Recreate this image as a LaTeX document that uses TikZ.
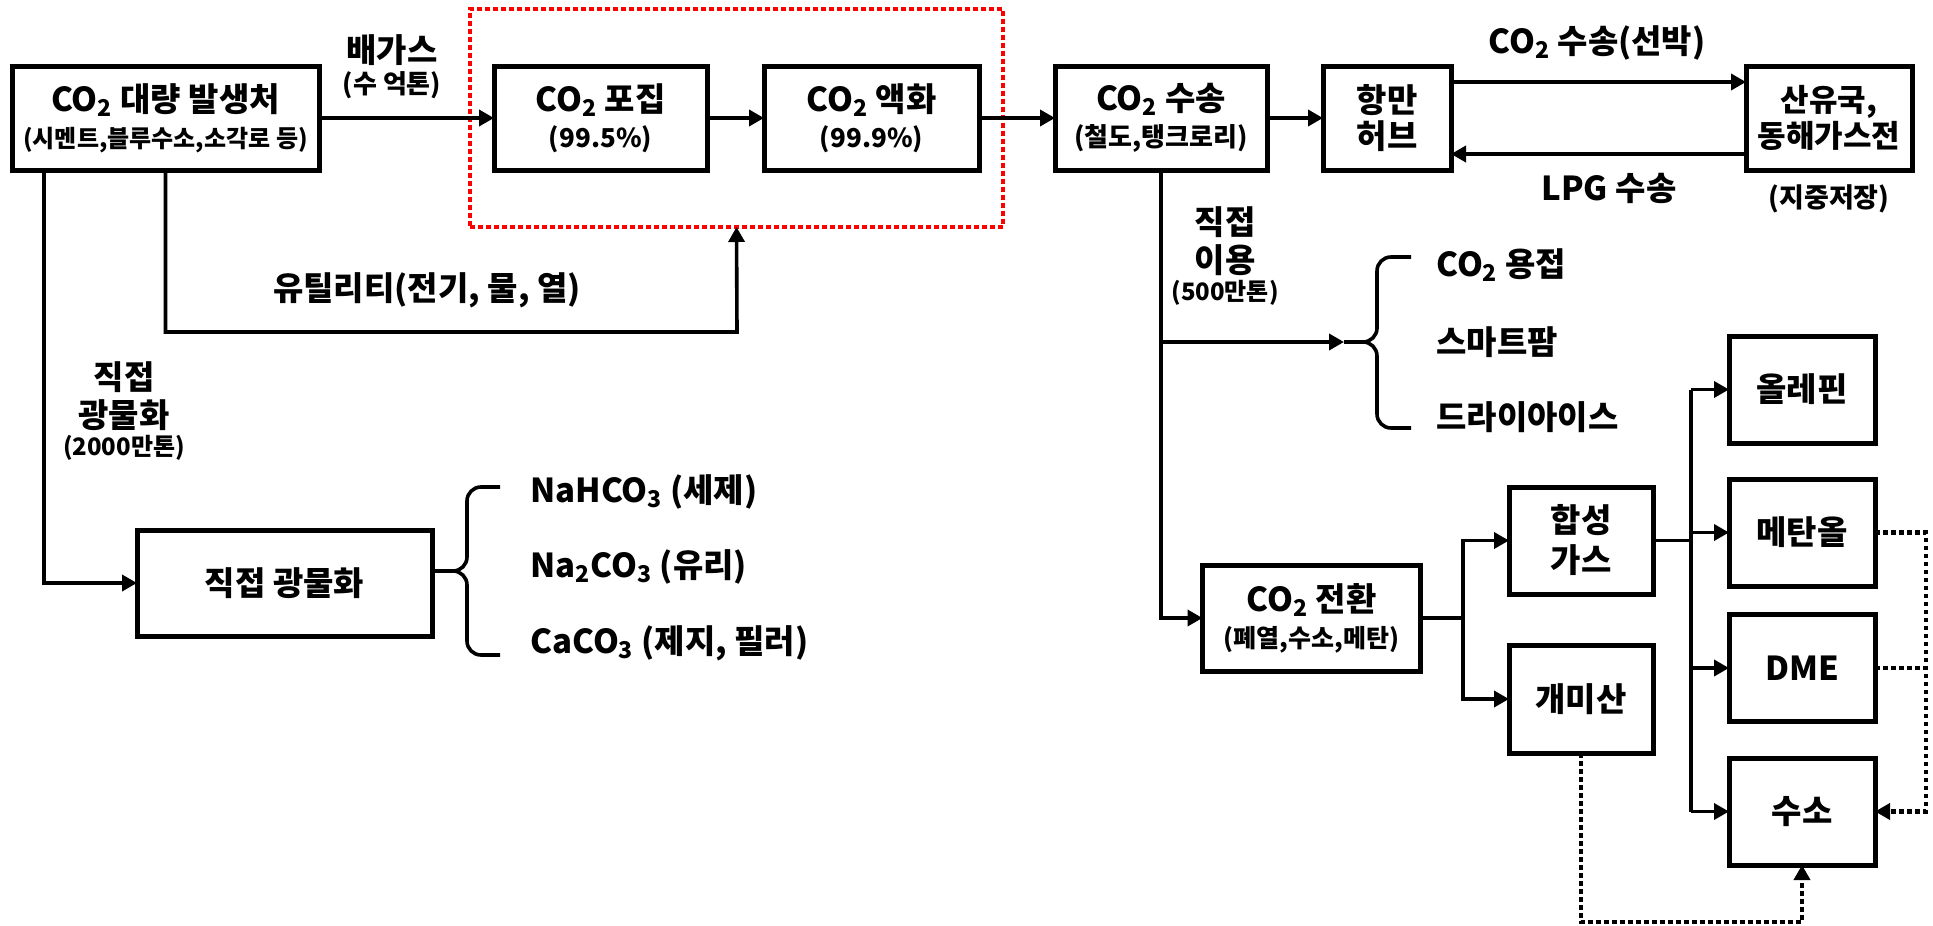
\documentclass[tikz,border=0pt]{standalone}
\usepackage{fontspec}
\setmainfont{Noto Sans CJK KR}
\usetikzlibrary{shapes,arrows.meta,positioning,fit}
\tikzstyle{blk}=[rectangle,draw,line width=2.5pt,align=center,inner sep=0pt,outer sep=0pt,font=\bfseries\fontsize{16.5}{18}\selectfont]
\tikzstyle{txt}=[align=center,inner sep=1pt,font=\bfseries\fontsize{16.5}{19}\selectfont]
\tikzstyle{note}=[align=center,inner sep=1pt,font=\bfseries\fontsize{12.5}{14}\selectfont]
\tikzstyle{arr}=[-{Triangle[length=7.5pt,width=8pt]},line width=1.8pt]
\tikzstyle{ln}=[line width=1.8pt]
\tikzstyle{dotln}=[line width=2.3pt,dash pattern=on 2.3pt off 1.7pt]
\tikzstyle{dotarr}=[dotln,-{Triangle[length=7.5pt,width=8pt]}]
\newcommand{\cotwo}{CO\textsubscript{2}}
\newcommand{\sm}[1]{{\fontsize{13}{15}\selectfont #1}}

\begin{document}
\begin{tikzpicture}[x=0.5pt,y=-0.5pt,node distance=20pt]
\useasboundingbox (0,0) rectangle (1933,926);
% top row
\node (src) [blk, minimum width=153.5pt, minimum height=52pt] at (165.5,118) {\cotwo{} 대량 발생처\\{\fontsize{12}{14}\selectfont (시멘트,블루수소,소각로 등)}};
\node (cap) [blk, right=87.5pt of src, minimum width=106.5pt, minimum height=52pt] {\cotwo{} 포집\\\sm{(99.5\%)}};
\node (liq) [blk, right=28.5pt of cap, minimum width=107.5pt, minimum height=52pt] {\cotwo{} 액화\\\sm{(99.9\%)}};
\node (trn) [blk, right=38pt of liq, minimum width=106pt, minimum height=52pt] {\cotwo{} 수송\\\sm{(철도,탱크로리)}};
\node (hub) [blk, right=28pt of trn, minimum width=64pt, minimum height=52pt] {항만\\허브};
\node (oil) [blk, right=147.5pt of hub, minimum width=83pt, minimum height=52pt, font=\bfseries\fontsize{15.5}{18}\selectfont] {산유국,\\동해가스전};
\node (store) [note, font=\bfseries\fontsize{13.5}{15}\selectfont, below=6pt of oil] {(지중저장)};
\node (capbox) [fit=(cap)(liq), draw=red, dotln, inner xsep=12pt, inner ysep=28.5pt, outer sep=0pt] {};
\node (flue) [txt] at (392,50) {배가스};
\node (flueamt) [note, font=\bfseries\fontsize{13}{15}\selectfont] at (392,85) {(수 억톤)};
\node (ship) [txt] at (1597,43) {\cotwo{} 수송(선박)};
\node (lpg) [txt] at (1609,188) {LPG 수송};
\draw [arr] (src) -- (cap);
\draw [arr] (cap) -- (liq);
\draw [arr] (liq) -- (trn);
\draw [arr] (trn) -- (hub);
\draw [arr] ([yshift=18pt]hub.east) -- ([yshift=18pt]hub.east -| oil.west);
\draw [arr] ([yshift=-18pt]oil.west) -- ([yshift=-18pt]oil.west -| hub.east);

% utilities
\coordinate (utl) at (737,332);
\draw [arr] (src.south) |- (utl) -- (capbox.south);
\node (utltxt) [txt] at (427,290) {유틸리티(전기, 물, 열)};

% direct mineralisation
\node (minr) [blk, minimum width=147.5pt, minimum height=53pt] at (284.5,583) {직접 광물화};
\draw [arr] ([xshift=16pt]src.south west) |- (minr.west);
\node (minrtxt) [txt] at (124,396) {직접\\광물화};
\node (minramt) [note, font=\bfseries\fontsize{12}{14}\selectfont] at (124,448) {(2000만톤)};
\coordinate (mtip) at ([yshift=6pt]minr.east);
\draw [ln, rounded corners=7pt] (mtip) -| ++(35,-84) -- ++(33,0);
\draw [ln, rounded corners=7pt] (mtip) -| ++(35,84) -- ++(33,0);
\node (nahco) [txt, anchor=west] at (528,492) {NaHCO\textsubscript{3} (세제)};
\node (naco) [txt, anchor=west] at (528,567) {Na\textsubscript{2}CO\textsubscript{3} (유리)};
\node (caco) [txt, anchor=west] at (528,643) {CaCO\textsubscript{3} (제지, 필러)};

% direct use
\coordinate (utip) at (1344,342);
\draw [arr] (trn.south |- utip) -- (utip);
\draw [ln, rounded corners=7pt] (utip) -| ++(33,-85) -- ++(34,0);
\draw [ln, rounded corners=7pt] (utip) -| ++(33,86) -- ++(34,0);
\node (usetxt) [txt] at (1225,241) {직접\\이용};
\node (useamt) [note, font=\bfseries\fontsize{12}{14}\selectfont] at (1225,293) {(500만톤)};
\node (weld) [txt, anchor=west] at (1434,265) {\cotwo{} 용접};
\node (farm) [txt, anchor=west] at (1434,342) {스마트팜};
\node (ice) [txt, anchor=west] at (1434,417) {드라이아이스};

% conversion
\node (conv) [blk, minimum width=109pt, minimum height=53pt] at (1311.5,618) {\cotwo{} 전환\\{\fontsize{12.5}{14}\selectfont (폐열,수소,메탄)}};
\draw [arr] (trn.south) |- (conv.west);
\node (syn) [blk, minimum width=72pt, minimum height=53.5pt] at (1581,540.5) {합성\\[2pt]가스};
\node (form) [blk, minimum width=72pt, minimum height=54pt] at (1581,699) {개미산};
\node (olef) [blk, minimum width=73pt, minimum height=53.5pt] at (1802,389.5) {올레핀};
\node (meth) [blk, minimum width=73pt, minimum height=53.5pt] at (1802,532.5) {메탄올};
\node (dme) [blk, minimum width=73pt, minimum height=53.5pt] at (1802,668) {DME};
\node (h2) [blk, minimum width=73pt, minimum height=53.5pt] at (1802,811.5) {수소};
\coordinate (cbr) at (1463,618);
\draw [ln] (conv.east) -- (cbr);
\draw [arr] (cbr) |- (syn.west);
\draw [arr] (cbr) |- (form.west);
\coordinate (sbr) at (1691,540.5);
\draw [ln] (syn.east) -- (sbr);
\draw [ln] (sbr |- olef.west) -- (sbr |- h2.west);
\foreach \n in {olef,meth,dme,h2}
  \draw [arr] (sbr |- \n.west) -- (\n.west);
\coordinate (dr) at (1926,811.5);
\draw [dotarr] (meth.east) -| (dr) -- (h2.east);
\draw [dotln] (dme.east) -- (dme.east -| dr);
\coordinate (db) at (1802,922);
\draw [dotarr] (form.south) |- (db) -- (h2.south);
\end{tikzpicture}
\end{document}
